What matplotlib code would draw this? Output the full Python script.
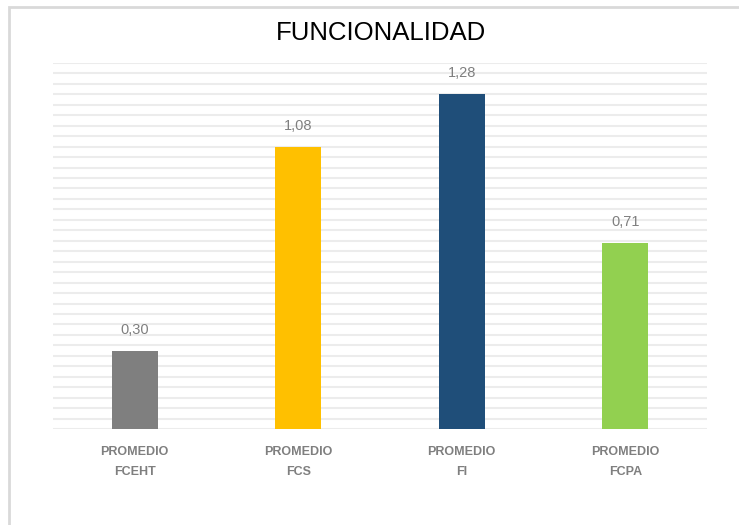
import matplotlib.pyplot as plt
import numpy as np
from matplotlib.patches import Rectangle

categories = ["PROMEDIO\nFCEHT", "PROMEDIO\nFCS", "PROMEDIO\nFI", "PROMEDIO\nFCPA"]
values = [0.30, 1.08, 1.28, 0.71]
bar_colors = ["#7f7f7f", "#ffc000", "#1f4e79", "#92d050"]
title = "FUNCIONALIDAD"

plt.rcParams["font.family"] = ["Liberation Sans", "DejaVu Sans"]

fig = plt.figure(figsize=(7.39, 5.25), dpi=100)
ax = fig.add_axes([53 / 739, 1 - 429 / 525, (707 - 53) / 739, (429 - 63) / 525])

x = np.arange(len(categories))
bars = ax.bar(x, values, width=0.28, color=bar_colors, zorder=3)

ax.set_xlim(-0.5, len(categories) - 0.5)
ax.set_ylim(0, 1.4)
ax.set_yticks(np.arange(0, 1.401, 0.04))
ax.yaxis.grid(True, color="#ececec", linewidth=1.5, zorder=0)
ax.tick_params(axis="y", length=0, labelleft=False)
ax.tick_params(axis="x", length=0, pad=12)
ax.set_xticks(x)
ax.set_xticklabels(categories, color="#7f7f7f", fontsize=9, fontweight="bold", linespacing=1.9)
for s in ax.spines.values():
    s.set_visible(False)

for b, v in zip(bars, values):
    ax.annotate(f"{v:.2f}".replace(".", ","), (b.get_x() + b.get_width() / 2, v),
                xytext=(0, 10), textcoords="offset points", ha="center", va="bottom",
                color="#7f7f7f", fontsize=10.5)

fig.text(381 / 739, 1 - 33 / 525, title, ha="center", va="center", fontsize=18.5, color="black")

# chart border like the excel frame
fig.patches.append(Rectangle((9 / 739, -0.1), 1.2, 1.1 - 7 / 525, transform=fig.transFigure,
                             fill=False, edgecolor="#d9d9d9", linewidth=2))

fig.savefig("out.png", dpi=100)
